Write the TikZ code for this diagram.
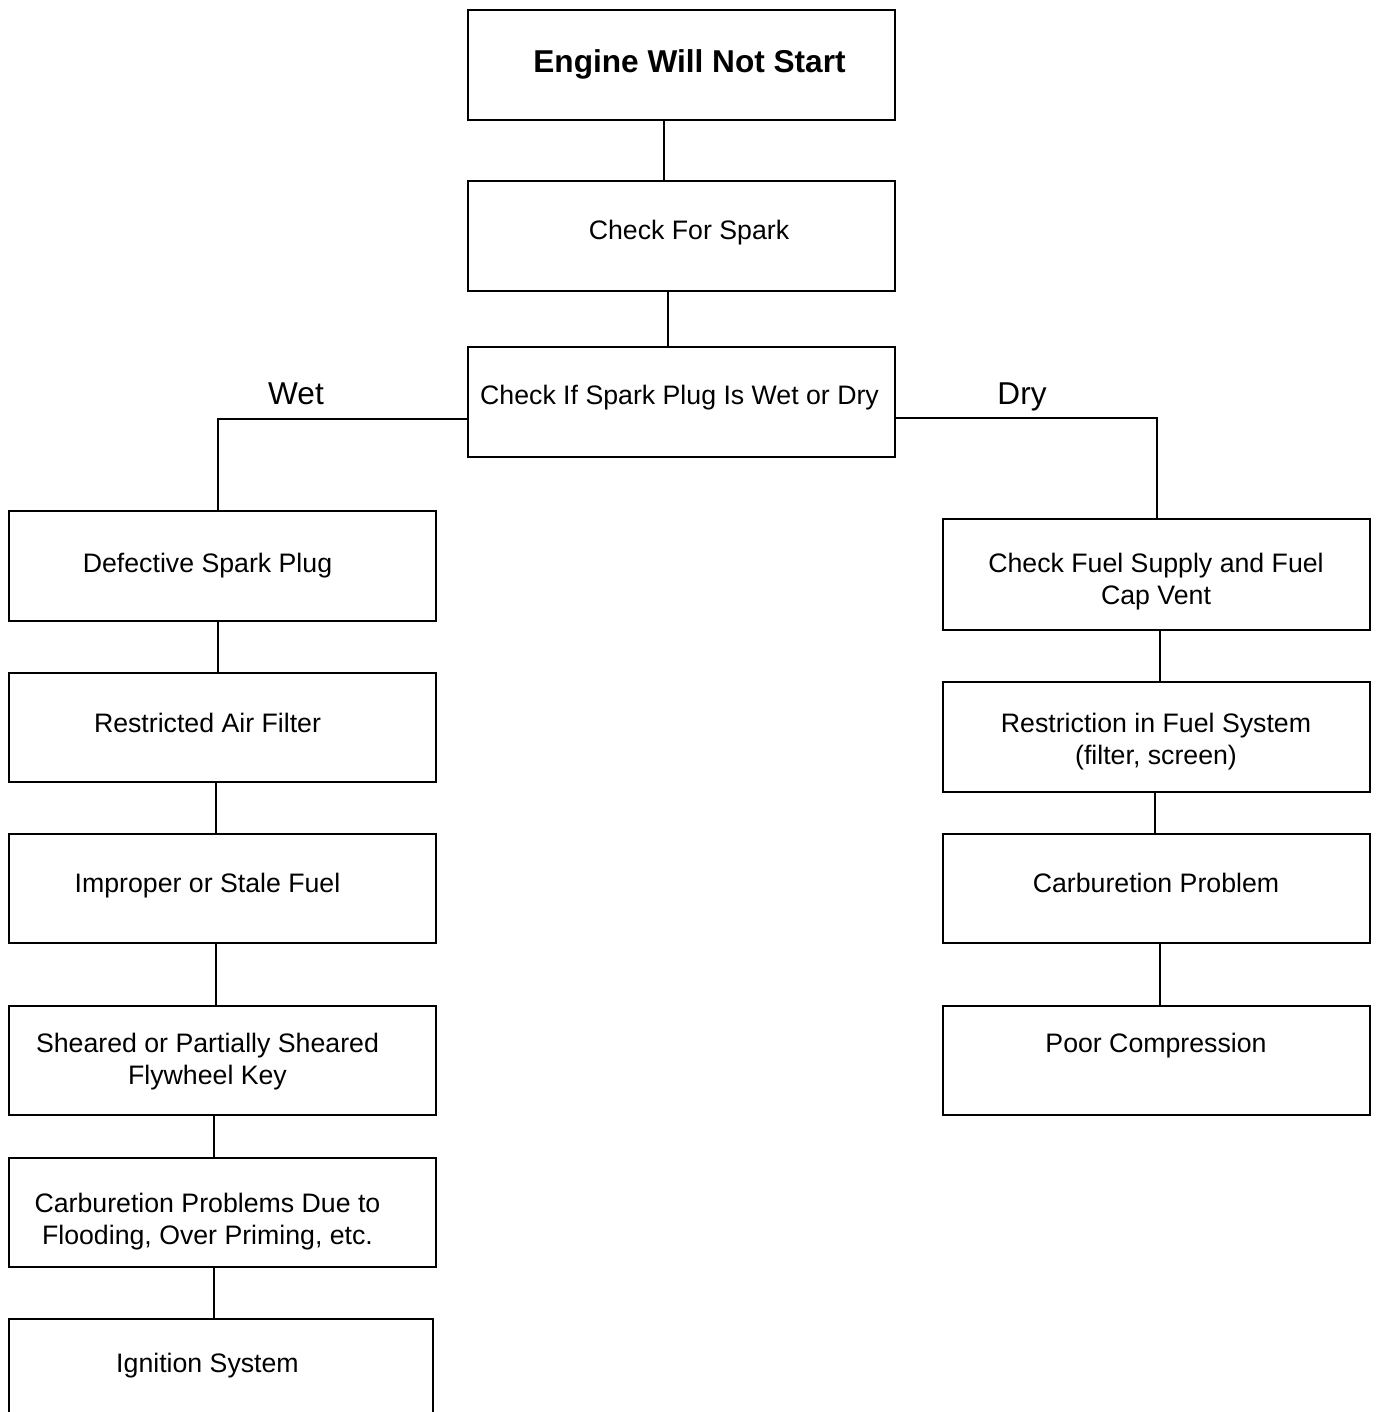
\documentclass[tikz,border=0pt]{standalone}
\usepackage{fontspec}
\setmainfont{Liberation Sans}
\begin{document}
\begin{tikzpicture}[x=1pt,y=-1pt,
  box/.style={draw,line width=2pt,anchor=north west,inner sep=0pt,minimum width=427pt,minimum height=110pt},
  txt/.style={anchor=north,inner sep=0pt,align=center,font=\fontsize{26.7}{32}\selectfont},
  ttl/.style={anchor=north,inner sep=0pt,font=\fontsize{31.6}{38}\selectfont\bfseries},
  lbl/.style={anchor=north,inner sep=0pt,font=\fontsize{31.6}{38}\selectfont},
  con/.style={line width=2pt}]
\useasboundingbox (0,0) rectangle (1375,1412);
\clip (0,0) rectangle (1375,1412);
% centre column
\node[box] (b1) at (467,9) {};
\node[box,minimum height=110pt] (b2) at (467,180) {};
\node[box] (b3) at (467,346) {};
\node[ttl] (t1) at (689.5,49) {Engine Will Not Start};
\node[txt] (t2) at (689,220) {Check For Spark};
\node[txt] (t3) at (679.5,385) {Check If Spark Plug Is Wet or Dry};
% left column
\node[box] (l1) at (8,510) {};
\node[box,minimum height=109pt] (l2) at (8,672) {};
\node[box,minimum height=109pt] (l3) at (8,833) {};
\node[box,minimum height=109pt] (l4) at (8,1005) {};
\node[box,minimum height=109pt] (l5) at (8,1157) {};
\node[box,minimum width=424pt,minimum height=150pt] (l6) at (8,1318) {};
\node[txt] at (207.5,553) {Defective Spark Plug};
\node[txt] at (207.5,713) {Restricted Air Filter};
\node[txt] at (207.5,873) {Improper or Stale Fuel};
\node[txt] at (207.5,1033) {Sheared or Partially Sheared\\Flywheel Key};
\node[txt] at (207.5,1193) {Carburetion Problems Due to\\Flooding, Over Priming, etc.};
\node[txt] at (207.5,1353) {Ignition System};
% right column
\node[box,minimum height=111pt] (r1) at (942,518) {};
\node[box] (r2) at (942,681) {};
\node[box,minimum height=109pt] (r3) at (942,833) {};
\node[box,minimum height=109pt] (r4) at (942,1005) {};
\node[txt] at (1156,553) {Check Fuel Supply and Fuel\\Cap Vent};
\node[txt] at (1156,713) {Restriction in Fuel System\\(filter, screen)};
\node[txt] at (1156,873) {Carburetion Problem};
\node[txt] at (1156,1033) {Poor Compression};
% branch labels
\node[lbl] (wet) at (296,383) {Wet};
\node[lbl] (dry) at (1022,383) {Dry};
% connectors
\draw[con] (b1.south west) ++(197,0) -- ++(0,61);
\draw[con] (b2.south west) ++(201,0) -- ++(0,56);
\draw[con] (b3.west |- 0,419) -| (l1.north west -| 218,0);
\draw[con] (b3.east |- 0,418) -| (r1.north west -| 1157,0);
\draw[con] (l1.south west -| 218,0) -- (l2.north west -| 218,0);
\draw[con] (l2.south west -| 216,0) -- (l3.north west -| 216,0);
\draw[con] (l3.south west -| 216,0) -- (l4.north west -| 216,0);
\draw[con] (l4.south west -| 214,0) -- (l5.north west -| 214,0);
\draw[con] (l5.south west -| 214,0) -- (l6.north west -| 214,0);
\draw[con] (r1.south west -| 1160,0) -- (r2.north west -| 1160,0);
\draw[con] (r2.south west -| 1155,0) -- (r3.north west -| 1155,0);
\draw[con] (r3.south west -| 1160,0) -- (r4.north west -| 1160,0);
\end{tikzpicture}
\end{document}
